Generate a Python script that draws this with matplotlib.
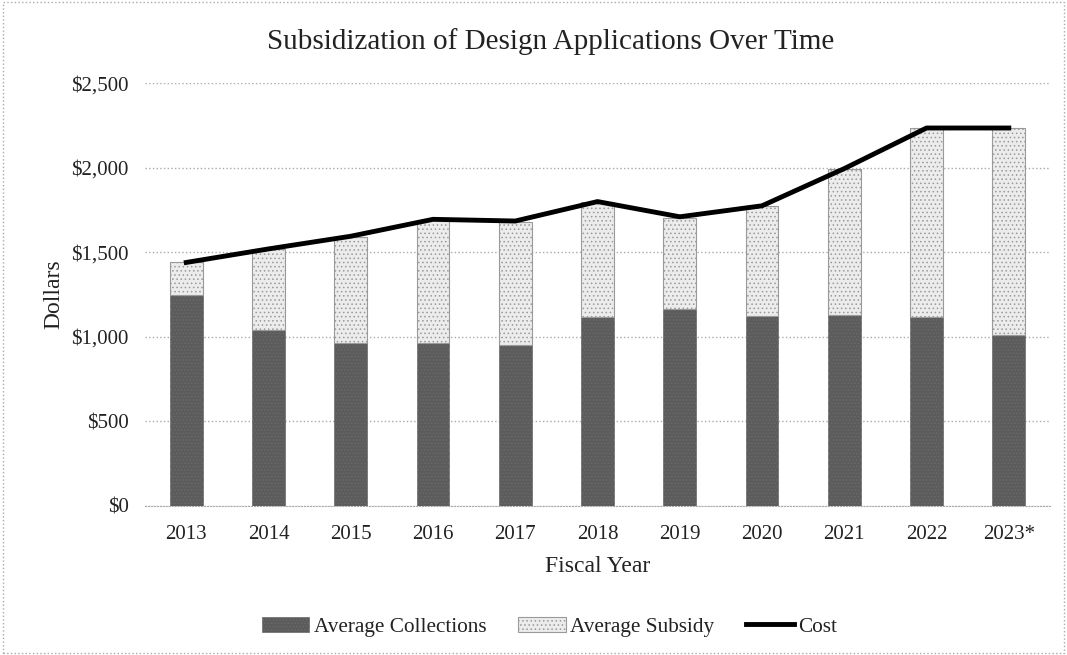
import numpy as np
import matplotlib.pyplot as plt
from matplotlib.patches import Rectangle

plt.rcParams['font.family'] = ['Liberation Serif', 'DejaVu Serif']
plt.rcParams['hatch.linewidth'] = 0.6

years = ["2013", "2014", "2015", "2016", "2017", "2018", "2019", "2020", "2021", "2022", "2023*"]
collections = [1250, 1040, 965, 963, 950, 1115, 1165, 1123, 1129, 1117, 1010]
subsidy = [195, 480, 625, 727, 730, 685, 540, 650, 863, 1118, 1225]
cost = [1440, 1520, 1595, 1695, 1685, 1800, 1710, 1775, 1995, 2235, 2235]

x = np.arange(len(years))

fig = plt.figure(figsize=(10.67, 6.55), dpi=100)
ax = fig.add_axes([0.136, 0.2275, 0.848, 0.6455])

b1 = ax.bar(x, collections, width=0.4, color='#5c5c5c', edgecolor='#6a6a6a',
            hatch='.....', linewidth=0.5, label='Average Collections', zorder=2)
b2 = ax.bar(x, subsidy, width=0.4, bottom=collections, color='#ececec', edgecolor='#9a9a9a',
            hatch='....', linewidth=0.8, label='Average Subsidy', zorder=2)
ln, = ax.plot(x, cost, color='black', linewidth=3.5, label='Cost', zorder=3)

ax.set_xlim(-0.5, len(years) - 0.5)
ax.set_ylim(0, 2500)
ax.set_yticks(np.arange(0, 2501, 500))
ax.set_yticklabels([f"${v:,}" for v in range(0, 2501, 500)])
ax.set_xticks(x)
ax.set_xticklabels(years)
ax.tick_params(length=0, labelsize=15, colors='#222222')
ax.tick_params(axis='x', pad=14)
ax.tick_params(axis='y', pad=12)
ax.grid(axis='y', color='#aaaaaa', linestyle=':', linewidth=1, zorder=0)
for s in ['top', 'right', 'left']:
    ax.spines[s].set_visible(False)
ax.spines['bottom'].set_color('#aaaaaa')
ax.spines['bottom'].set_linestyle(':')

fig.text(0.516, 0.936, "Subsidization of Design Applications Over Time", fontsize=21,
         color='#222222', ha='center', va='center')
ax.set_ylabel("Dollars", fontsize=17, color='#222222', labelpad=5)
ax.set_xlabel("Fiscal Year", fontsize=17, color='#222222', labelpad=8)

fig.legend(handles=[b1, b2, ln], loc='center', bbox_to_anchor=(0.515, 0.043), ncol=3,
           frameon=False, fontsize=15.3, handlelength=2.25, handletextpad=0.2,
           columnspacing=1.5, labelcolor='#222222')

fig.patches.append(Rectangle((0.003, 0.003), 0.994, 0.994, transform=fig.transFigure,
                             fill=False, edgecolor='#aaaaaa', linestyle=':', linewidth=1))

fig.savefig("out.png", dpi=100)
